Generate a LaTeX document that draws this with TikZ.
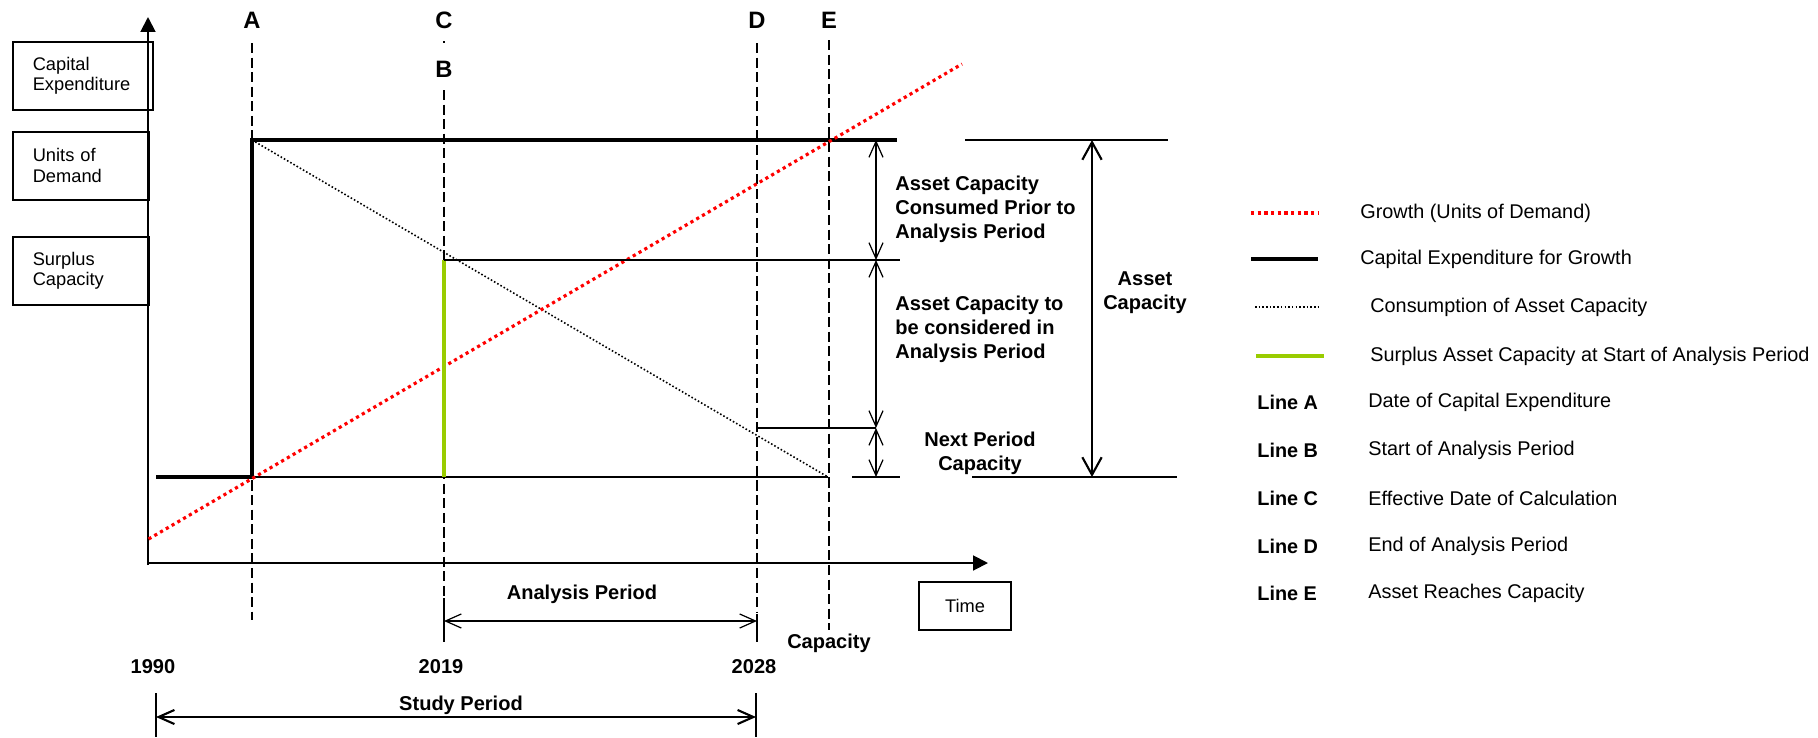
\documentclass[tikz,border=0pt]{standalone}
\usepackage{fontspec}
\setmainfont{Liberation Sans}
\usetikzlibrary{arrows.meta,positioning}
\definecolor{growthred}{RGB}{255,0,0}
\definecolor{surplusgreen}{RGB}{153,204,0}

\begin{document}
\begin{tikzpicture}[x=0.02cm,y=-0.02cm,
	sidebox/.style={draw,line width=0.9pt,align=left,inner xsep=0.4cm,minimum height=1.36cm,anchor=north west,font=\fontsize{10.4}{11.9}\selectfont},
	letter/.style={font=\fontsize{13.5}{15}\selectfont\bfseries,inner sep=1pt},
	bold/.style={font=\fontsize{11.4}{13.6}\selectfont\bfseries,inner sep=0pt},
	legtext/.style={font=\fontsize{11.3}{13.6}\selectfont,anchor=west,inner sep=0pt},
	guide/.style={line width=1pt,dash pattern=on 5.7pt off 2.6pt},
	capex/.style={line width=2.2pt},
	growth/.style={growthred,line width=1.8pt,dash pattern=on 1.8pt off 2pt},
	consumption/.style={line width=0.9pt,dash pattern=on 0.9pt off 1.2pt},
	surplus/.style={surplusgreen,line width=2.1pt},
	thin/.style={line width=0.9pt},
	dim/.style={line width=0.7pt,{Straight Barb[length=9pt,width=8pt]}-{Straight Barb[length=9pt,width=8pt]}},
	axis/.style={line width=1.1pt,-{Triangle[length=8.5pt,width=8.5pt]}}]
\useasboundingbox (0,0) rectangle (1818,737);
% axes
\draw[axis] (148,565) -- (148,17);
\draw[axis] (147,563) -- (988,563);
\node[sidebox,text width=2.0cm] (capbox) at (12,41) {Capital\\Expenditure};
\node[sidebox,text width=1.92cm] (demandbox) at (12,131) {Units of\\Demand};
\node[sidebox,text width=1.92cm] (surplusbox) at (12,236) {Surplus\\Capacity};
\node[draw,line width=0.9pt,minimum width=1.84cm,minimum height=0.96cm,font=\fontsize{10.4}{11.9}\selectfont] (timebox) at (965,606) {Time};
% vertical lines A to E
\node[letter] (lA) at (252,20) {A};
\node[letter] (lC) at (444,20) {C};
\node[letter] (lB) at (444,69) {B};
\node[letter] (lD) at (757,20) {D};
\node[letter] (lE) at (829,20) {E};
\draw[guide] (252,43) -- (252,620);
\draw[thin] (444,41) -- (444,43);
\draw[guide] (444,90) -- (444,596);
\draw[thin] (444,598) -- (444,642);
\draw[guide] (757,43) -- (757,612);
\draw[thin] (757,614) -- (757,642);
\draw[guide] (829,40) -- (829,630);
\draw[thin] (156,693) -- (156,737);
\draw[thin] (756,693) -- (756,737);
% curves
\draw[capex] (156,477) -- (252,477) -- (252,140) -- (897,140);
\draw[line width=1.4pt] (252,477) -- (828,477);
\draw[consumption] (252,140) -- (828,477);
\draw[growth] (148.6,539) -- (962,64);
\draw[surplus] (444,477) -- (444,260);
\draw[thin] (444,260) -- (900,260);
\draw[line width=1.2pt] (757,428) -- (876,428);
\draw[line width=1.2pt] (852,477) -- (900,477);
\draw[thin] (965,140) -- (1168,140);
\draw[thin] (972,477) -- (1177,477);
% dimensions
\draw[dim] (876,140) -- (876,260);
\draw[dim] (876,260) -- (876,428);
\draw[dim] (876,428) -- (876,477);
\draw[line width=1.2pt,{Straight Barb[length=10pt,width=11pt]}-{Straight Barb[length=10pt,width=11pt]}] (1092,140) -- (1092,477);
\draw[dim] (444,621) -- (757,621);
\draw[dim,line width=1.2pt] (156,717) -- (756,717);
\node[bold,anchor=west,align=left] (consumed) at (895,209) {Asset Capacity\\Consumed Prior to\\Analysis Period};
\node[bold,anchor=west,align=left] (tobe) at (895,329) {Asset Capacity to\\be considered in\\Analysis Period};
\node[bold,align=center] (nextcap) at (980,453) {Next Period\\Capacity};
\node[bold,align=center] (assetcap) at (1145,293) {Asset\\Capacity};
\node[bold] (analysis) at (582,594) {Analysis Period};
\node[bold] (study) at (461,705) {Study Period};
\node[bold] (capacity) at (829,643) {Capacity};
\node[bold] (y1990) at (153,667) {1990};
\node[bold] (y2019) at (441,667) {2019};
\node[bold] (y2028) at (754,667) {2028};
% legend
\draw[growth] (1251,213) -- (1318,213);
\draw[capex] (1251,259) -- (1318,259);
\draw[consumption] (1255,307) -- (1321,307);
\draw[surplus] (1256,356) -- (1324,356);
\node[legtext] (kgrowth) at (1360,213) {Growth (Units of Demand)};
\node[legtext] (kcapex) at (1360,259) {Capital Expenditure for Growth};
\node[legtext] (kcons) at (1370,307) {Consumption of Asset Capacity};
\node[legtext] (ksurplus) at (1370,356) {Surplus Asset Capacity at Start of Analysis Period};
\foreach \l/\t/\y in {A/Date of Capital Expenditure/402,B/Start of Analysis Period/450,C/Effective Date of Calculation/498,D/End of Analysis Period/546,E/Asset Reaches Capacity/593}{
	\node[legtext,font=\fontsize{11.3}{13.6}\selectfont\bfseries] (line\l) at (1257,\y) {Line \l};
	\node[legtext] (desc\l) at (1368,\y) {\t};
}
\end{tikzpicture}
\end{document}
